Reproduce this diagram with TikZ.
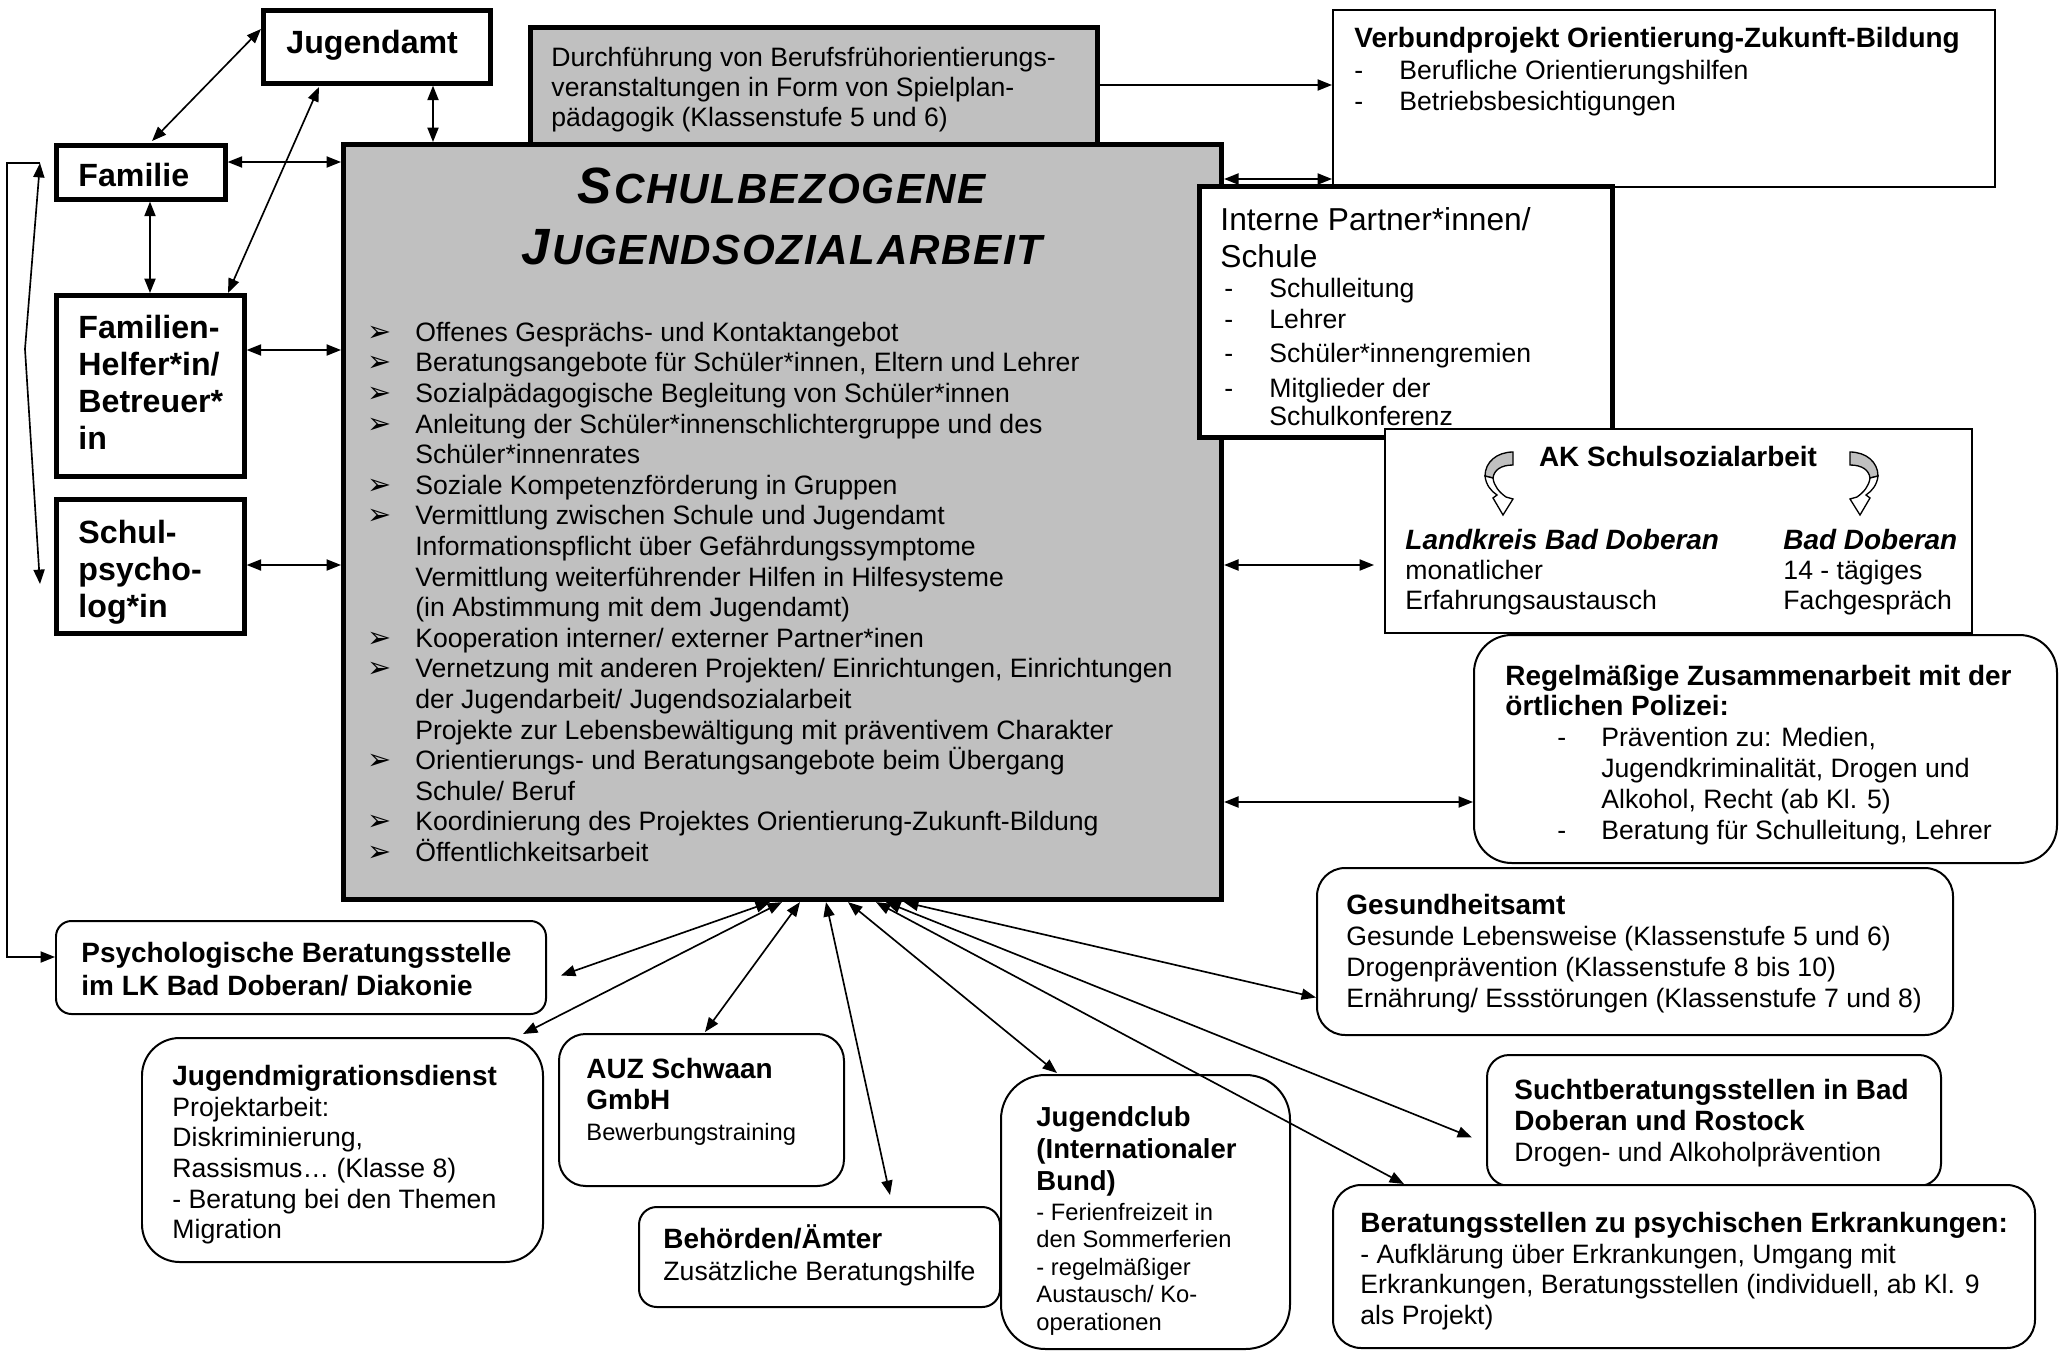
\documentclass[tikz,border=0pt]{standalone}
\usepackage{fontspec}
\setmainfont{Liberation Sans}
\newfontfamily\symf{DejaVu Sans}
\usetikzlibrary{arrows.meta,calc}
\definecolor{silv}{HTML}{C0C0C0}
\newcommand\topr[1]{\rule{0pt}{#1}}
\newcommand\mbul{\makebox[21.6pt][l]{\symf\fontsize{13}{13}\selectfont ➢}}
\newcommand\mind{\makebox[21.6pt]{}}
\newcommand\dsh[1]{\makebox[#1][l]{-}}
\newcommand\akarrow{%
  \filldraw[fill=silv, line width=0.6pt] (28,0) .. controls (12,0) and (0,10) .. (0,24) -- (8,26) .. controls (9,18) and (16,13) .. (28,13) -- cycle;
  \filldraw[fill=white, line width=0.6pt] (0,24) .. controls (1,33) and (6,39) .. (12,43) -- (8,46) -- (18,63) -- (28,47) -- (21,45) .. controls (14,40) and (9,34) .. (8,26) -- cycle;}
\tikzset{
  thk/.style={draw, fill=white, line width=2.1pt, inner sep=0, anchor=north west},
  thn/.style={draw, fill=white, line width=0.7pt, inner sep=0, anchor=north west},
  rnd/.style={draw, fill=white, line width=0.9pt, inner sep=0, anchor=north west, rounded corners=#1},
  sz/.style 2 args={minimum width=#1*0.451pt, minimum height=#2*0.451pt},
  txt/.style={inner sep=0, anchor=north west, align=left},
  dar/.style={line width=0.75pt, {Triangle[length=6.5pt,width=5pt]}-{Triangle[length=6.5pt,width=5pt]}},
  sar/.style={line width=0.75pt, -{Triangle[length=6.5pt,width=5pt]}},
}
\begin{document}
\begin{tikzpicture}[x=0.451pt, y=-0.451pt]
\fill[white] (0,0) rectangle (2062,1353);
\useasboundingbox (0,0) rectangle (2062,1353);

% ---------- boxes ----------
\node[thk, fill=silv, sz={567}{120}] (durch) at (528,25) {};
\node[thk, fill=silv, line width=2.3pt, sz={878}{755}] (main) at (341,142) {};
\node[thk, sz={227}{73}] (jugendamt) at (261,8) {};
\node[thk, sz={169}{54}] (familie) at (54,143) {};
\node[thk, sz={188}{181}] (famhelfer) at (54,293) {};
\node[thk, sz={188}{134}] (schulpsych) at (54,497) {};
\node[thn, sz={662}{177}] (verbund) at (1332,9) {};
\node[thk, sz={413}{251}] (interne) at (1197,184) {};
\node[thn, sz={587}{204}] (ak) at (1384,428) {};
\node[rnd=17pt, sz={583}{228}] (polizei) at (1473,634) {};
\node[rnd=12.7pt, sz={636}{167}] (gesund) at (1316,867) {};
\node[rnd=10pt, sz={454}{131}] (sucht) at (1486,1054) {};
\node[rnd=12.7pt, sz={702}{163}] (beratung) at (1332,1184) {};
\node[rnd=20pt, sz={289}{274}] (jugendclub) at (1000,1074) {};
\node[rnd=8pt, sz={361}{100}] (behoerden) at (638,1206) {};
\node[rnd=12pt, sz={285}{152}] (auz) at (558,1033) {};
\node[rnd=17pt, sz={401}{224}] (jmd) at (141,1037) {};
\node[rnd=7pt, sz={490}{93}] (psych) at (55,920) {};

% ---------- texts ----------
\node[txt, font=\bfseries\fontsize{14.5}{16.7}\selectfont] (tjugendamt) at ($(jugendamt.north west)+(25,12.7)$) {\topr{14.5pt}Jugendamt};
\node[txt, font=\fontsize{12}{13.5}\selectfont] (tdurch) at ($(durch.north west)+(23,14.2)$) {\topr{12pt}Durchführung von Berufsfrühorientierungs-\\veranstaltungen in Form von Spielplan-\\pädagogik (Klassenstufe 5 und 6)};
\node[txt, font=\bfseries\fontsize{14.5}{16.7}\selectfont] (tfamilie) at ($(familie.north west)+(24,10.7)$) {\topr{14.5pt}Familie};
\node[txt, font=\bfseries\fontsize{14.5}{16.7}\selectfont] (tfamhelfer) at ($(famhelfer.north west)+(24,12.7)$) {\topr{14.5pt}Familien-\\Helfer*in/\\Betreuer*\\in};
\node[txt, font=\bfseries\fontsize{14.5}{16.7}\selectfont] (tschulpsych) at ($(schulpsych.north west)+(24,13.7)$) {\topr{14.5pt}Schul-\\psycho-\\log*in};

\node[inner sep=0, anchor=north, align=center, font=\bfseries\itshape\fontsize{19}{27.5}\selectfont] (title) at ($(main.north west)+(441,10)$)
  {\topr{23pt}{\fontsize{23}{27.5}\selectfont S}\kern1pt{\addfontfeature{LetterSpace=4}CHULBEZOGENE}\\
   {\fontsize{23}{27.5}\selectfont J}\kern1pt{\addfontfeature{LetterSpace=4}UGENDSOZIALARBEIT}};
\node[txt, font=\fontsize{12}{13.8}\selectfont] (tlist) at ($(main.north west)+(26,172.2)$) {\topr{12pt}\mbul Offenes Gesprächs- und Kontaktangebot\\
\mbul Beratungsangebote für Schüler*innen, Eltern und Lehrer\\
\mbul Sozialpädagogische Begleitung von Schüler*innen\\
\mbul Anleitung der Schüler*innenschlichtergruppe und des\\
\mind Schüler*innenrates\\
\mbul Soziale Kompetenzförderung in Gruppen\\
\mbul Vermittlung zwischen Schule und Jugendamt\\
\mind Informationspflicht über Gefährdungssymptome\\
\mind Vermittlung weiterführender Hilfen in Hilfesysteme\\
\mind (in Abstimmung mit dem Jugendamt)\\
\mbul Kooperation interner/ externer Partner*inen\\
\mbul Vernetzung mit anderen Projekten/ Einrichtungen, Einrichtungen\\
\mind der Jugendarbeit/ Jugendsozialarbeit\\
\mind Projekte zur Lebensbewältigung mit präventivem Charakter\\
\mbul Orientierungs- und Beratungsangebote beim Übergang\\
\mind Schule/ Beruf\\
\mbul Koordinierung des Projektes Orientierung-Zukunft-Bildung\\
\mbul Öffentlichkeitsarbeit};

\node[txt, font=\fontsize{12}{14.2}\selectfont] (tverbund) at ($(verbund.north west)+(22,10.4)$) {\topr{12.6pt}{\bfseries\fontsize{12.6}{14.2}\selectfont Verbundprojekt Orientierung-Zukunft-Bildung}\\
\dsh{20.3pt}Berufliche Orientierungshilfen\\
\dsh{20.3pt}Betriebsbesichtigungen};

\node[txt, font=\fontsize{14.3}{16.7}\selectfont] (tinterne) at ($(interne.north west)+(23,14)$) {\topr{14.3pt}Interne Partner*innen/\\Schule};
\node[txt, font=\fontsize{12}{14.4}\selectfont] (tinterne2) at ($(interne.north west)+(27,86.2)$) {\topr{12pt}\dsh{20.3pt}Schulleitung\\[-0.45pt]
\dsh{20.3pt}Lehrer\\[0.9pt]
\dsh{20.3pt}Schüler*innengremien\\[1.35pt]
\dsh{20.3pt}Mitglieder der\\[-1.35pt]
\makebox[20.3pt]{}Schulkonferenz};

\node[inner sep=0, anchor=north, font=\bfseries\fontsize{12.6}{14.2}\selectfont] (tak) at ($(ak.north west)+(294,10.4)$) {\topr{12.6pt}AK Schulsozialarbeit};
\node[txt, font=\fontsize{12}{13.5}\selectfont] (tak1) at ($(ak.north west)+(21,93.4)$) {\topr{12.6pt}{\bfseries\itshape\fontsize{12.6}{13.5}\selectfont Landkreis Bad Doberan}\\monatlicher\\Erfahrungsaustausch};
\node[txt, font=\fontsize{12}{13.5}\selectfont] (tak2) at ($(ak.north west)+(399,93.4)$) {\topr{12.6pt}{\bfseries\itshape\fontsize{12.6}{13.5}\selectfont Bad Doberan}\\14 - tägiges\\Fachgespräch};

\node[txt, font=\bfseries\fontsize{12.6}{13.5}\selectfont] (tpol) at ($(polizei.north west)+(32,23.4)$) {\topr{12.6pt}Regelmäßige Zusammenarbeit mit der\\örtlichen Polizei:};
\node[txt, font=\fontsize{12}{14}\selectfont] (tpol2) at ($(polizei.north west)+(84,85.2)$) {\topr{12pt}\dsh{19.8pt}Prävention zu: Medien,\\
\makebox[19.8pt]{}Jugendkriminalität, Drogen und\\
\makebox[19.8pt]{}Alkohol, Recht (ab Kl. 5)\\
\dsh{19.8pt}Beratung für Schulleitung, Lehrer};

\node[txt, font=\fontsize{12}{14}\selectfont] (tgesund) at ($(gesund.north west)+(30,19.4)$) {\topr{12.6pt}{\bfseries\fontsize{12.6}{14}\selectfont Gesundheitsamt}\\
Gesunde Lebensweise (Klassenstufe 5 und 6)\\
Drogenprävention (Klassenstufe 8 bis 10)\\
Ernährung/ Essstörungen (Klassenstufe 7 und 8)};

\node[txt, font=\fontsize{12}{14}\selectfont] (tsucht) at ($(sucht.north west)+(28,17.4)$) {\topr{12.6pt}{\bfseries\fontsize{12.6}{14}\selectfont Suchtberatungsstellen in Bad}\\
{\bfseries\fontsize{12.6}{14}\selectfont Doberan und Rostock}\\
Drogen- und Alkoholprävention};

\node[txt, font=\fontsize{12}{13.8}\selectfont] (tberatung) at ($(beratung.north west)+(28,20.4)$) {\topr{12.6pt}{\bfseries\fontsize{12.6}{13.8}\selectfont Beratungsstellen zu psychischen Erkrankungen:}\\
- Aufklärung über Erkrankungen, Umgang mit\\
Erkrankungen, Beratungsstellen (individuell, ab Kl. 9\\
als Projekt)};

\node[txt, font=\fontsize{10.7}{12.4}\selectfont] (tjclub) at ($(jugendclub.north west)+(36,24.7)$) {\topr{12.4pt}{\bfseries\fontsize{12.4}{14}\selectfont Jugendclub}\\[2pt]
{\bfseries\fontsize{12.4}{14}\selectfont (Internationaler}\\[2pt]
{\bfseries\fontsize{12.4}{14}\selectfont Bund)}\\[1.1pt]
- Ferienfreizeit in\\
den Sommerferien\\
- regelmäßiger\\
Austausch/ Ko-\\
operationen};

\node[txt, font=\fontsize{12}{14.4}\selectfont] (tbeh) at ($(behoerden.north west)+(25,14.4)$) {\topr{12.6pt}{\bfseries\fontsize{12.6}{14.4}\selectfont Behörden/Ämter}\\Zusätzliche Beratungshilfe};

\node[txt, font=\fontsize{10.7}{14}\selectfont] (tauz) at ($(auz.north west)+(28,17.4)$) {\topr{12.6pt}{\bfseries\fontsize{12.6}{14}\selectfont AUZ Schwaan}\\
{\bfseries\fontsize{12.6}{14}\selectfont GmbH}\\
Bewerbungstraining};

\node[txt, font=\fontsize{12}{13.8}\selectfont] (tjmd) at ($(jmd.north west)+(31,20.4)$) {\topr{12.6pt}{\bfseries\fontsize{12.6}{13.8}\selectfont Jugendmigrationsdienst}\\
Projektarbeit:\\
Diskriminierung,\\
Rassismus… (Klasse 8)\\
- Beratung bei den Themen\\
Migration};

\node[txt, font=\bfseries\fontsize{12.6}{14.9}\selectfont] (tpsych) at ($(psych.north west)+(26,14.4)$) {\topr{12.6pt}Psychologische Beratungsstelle\\im LK Bad Doberan/ Diakonie};

% ---------- AK curved arrows ----------
\begin{scope}[shift={(1485,452)}]
  \akarrow
\end{scope}
\begin{scope}[shift={(1878,452)}, xscale=-1]
  \akarrow
\end{scope}

% ---------- connectors ----------
\draw[dar] (jugendamt.south -| 433,0) -- (main.north -| 433,0);
\draw[dar] ($(jugendamt.north west)+(0,21)$) -- ($(familie.north west)+(98,-2)$);
\draw[dar] ($(jugendamt.north west)+(58,79)$) -- ($(famhelfer.north west)+(174,0)$);
\draw[dar] (familie.south -| 150,0) -- (famhelfer.north -| 150,0);
\draw[dar] (familie.east |- 0,162) -- (main.west |- 0,162);
\draw[dar] (famhelfer.east |- 0,350) -- (main.west |- 0,350);
\draw[dar] (schulpsych.east |- 0,565) -- (main.west |- 0,565);

\coordinate (lt) at (40,163);
\coordinate (lm) at (25,349);
\coordinate (lb) at (40,584);
\coordinate (lc) at (7,163);
\coordinate (ld) at (7,957);
\draw[dar] (lt) -- (lm) -- (lb);
\draw[sar] (lt) -- (lc) -- (ld) -- (psych.west |- ld);

\draw[sar] (durch.east |- 0,85) -- (verbund.west |- 0,85);
\draw[dar] (main.east |- 0,179) -- (verbund.west |- 0,179);
\draw[dar] (main.east |- 0,565) -- ($(ak.west |- 0,565)+(-10,0)$);
\draw[dar] (main.east |- 0,802) -- (polizei.west |- 0,802);

\draw[dar] (main.south -| 770,0) -- ($(psych.east)+(14,8)$);
\draw[dar] (main.south -| 782,0) -- ($(jmd.north east)+(-21,-3)$);
\draw[dar] (main.south -| 800,0) -- ($(auz.north west)+(147,-1)$);
\draw[dar] (main.south -| 826,0) -- ($(behoerden.north west)+(252,-11)$);
\draw[dar] (main.south -| 848,0) -- ($(jugendclub.north west)+(57,-1)$);
\draw[dar] (main.south -| 876,0) -- ($(beratung.north west)+(72,0)$);
\draw[dar] (main.south -| 886,0) -- ($(sucht.west)+(-14,17)$);
\draw[dar] (main.south -| 904,0) -- ($(gesund.west)+(0,46)$);
\end{tikzpicture}
\end{document}
